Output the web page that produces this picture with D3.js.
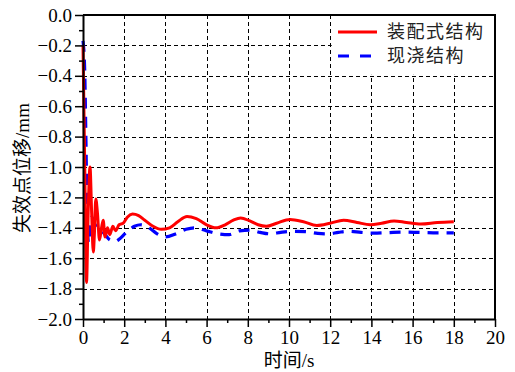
<!DOCTYPE html>
<html>
<head>
<meta charset="utf-8">
<script src="https://cdn.jsdelivr.net/npm/d3@7"></script>
<style>
  html, body { margin: 0; padding: 0; background: #fff; }
  svg { display: block; }
  .serif { font-family: "Liberation Serif", "Times New Roman", Times, "DejaVu Serif", "Noto Sans CJK SC", serif; }
</style>
</head>
<body>
<svg id="chart" width="515" height="372"></svg>
<script>
// ---- data ----
const seriesNames = ["装配式结构", "现浇结构"];
const redTime = [0,0.08,0.17,0.25,0.34,0.42,0.5,0.55,0.62,0.7,0.8,0.9,0.98,1.07,1.19,1.3,1.45,1.58,1.75,1.95,2.15,2.4,2.7,3.0,3.4,3.8,4.2,4.6,5.05,5.5,6.0,6.45,6.9,7.3,7.65,8.1,8.5,8.9,9.4,10.05,10.7,11.35,12.0,12.65,13.3,13.95,14.5,15.1,15.7,16.4,17.2,18];
const redValue = [-0.2,-0.95,-1.76,-1.3,-1.0,-1.3,-1.56,-1.45,-1.21,-1.3,-1.48,-1.4,-1.35,-1.46,-1.40,-1.445,-1.39,-1.42,-1.38,-1.37,-1.33,-1.31,-1.32,-1.35,-1.39,-1.41,-1.40,-1.36,-1.325,-1.34,-1.38,-1.40,-1.38,-1.35,-1.335,-1.355,-1.38,-1.39,-1.37,-1.345,-1.36,-1.385,-1.37,-1.35,-1.365,-1.38,-1.37,-1.355,-1.365,-1.375,-1.365,-1.36];
const blueTime = [0,0.08,0.14,0.18,0.22,0.27,0.33,0.42,0.55,0.7,0.9,1.1,1.3,1.55,1.8,2.1,2.5,2.8,3.2,3.6,4.0,4.5,5.0,5.4,6.0,6.6,7.1,7.6,8.1,8.6,9.1,9.6,10.2,10.8,11.4,11.9,12.4,12.9,13.5,14.1,14.8,15.5,16.2,17,18];
const blueValue = [-0.17,-0.35,-0.8,-1.15,-1.4,-1.5,-1.42,-1.33,-1.37,-1.40,-1.42,-1.45,-1.48,-1.49,-1.47,-1.43,-1.39,-1.38,-1.40,-1.44,-1.46,-1.44,-1.41,-1.40,-1.42,-1.44,-1.445,-1.42,-1.415,-1.43,-1.44,-1.43,-1.423,-1.425,-1.437,-1.44,-1.43,-1.423,-1.43,-1.435,-1.432,-1.428,-1.43,-1.433,-1.433];
const xTicks = [0,2,4,6,8,10,12,14,16,18,20];
const yTicks = [0,-0.2,-0.4,-0.6,-0.8,-1.0,-1.2,-1.4,-1.6,-1.8,-2.0];
const xLabel = "时间/s";
const yLabel = "失效点位移/mm";

// ---- layout ----
const L = 83, R = 495, T = 15, B = 319;
const svg = d3.select("#chart");
const x = d3.scaleLinear().domain([0, 20]).range([L, R]);
const y = d3.scaleLinear().domain([-2, 0]).range([B, T]);
const fmtY = d => d === 0 ? "0.0" : "\u2212" + Math.abs(d).toFixed(1);

// grid
const grid = svg.append("g").attr("stroke", "#000").attr("stroke-width", 1).attr("stroke-dasharray", "4,3");
xTicks.filter(d => d > 0 && d < 20).forEach(d => {
  grid.append("line").attr("x1", Math.round(x(d)) + 0.5).attr("x2", Math.round(x(d)) + 0.5).attr("y1", T).attr("y2", B);
});
yTicks.filter(d => d < 0 && d > -2).forEach(d => {
  grid.append("line").attr("x1", L).attr("x2", R).attr("y1", Math.round(y(d)) + 0.5).attr("y2", Math.round(y(d)) + 0.5);
});

// legend background (covers grid)
svg.append("rect").attr("x", x(12) + 1.5).attr("y", T).attr("width", R - x(12) - 1.5).attr("height", y(-0.4) - T - 1).attr("fill", "#fff");

// lines
const redData = redTime.map((t, i) => [t, redValue[i]]);
const blueData = blueTime.map((t, i) => [t, blueValue[i]]);
const line = d3.line().x(d => x(d[0])).y(d => y(d[1])).curve(d3.curveMonotoneX);
svg.append("path").datum(blueData).attr("d", line).attr("fill", "none")
  .attr("stroke", "#0000ff").attr("stroke-width", 3.2).attr("stroke-dasharray", "11,8");
svg.append("path").datum(redData).attr("d", line).attr("fill", "none")
  .attr("stroke", "#ff0000").attr("stroke-width", 3);

// axes
const xAxis = svg.append("g").attr("transform", `translate(0,${B})`)
  .call(d3.axisBottom(x).tickValues(xTicks).tickSize(8).tickSizeOuter(0).tickPadding(4).tickFormat(d3.format("d")));
const xMinor = svg.append("g").attr("transform", `translate(0,${B})`)
  .call(d3.axisBottom(x).tickValues(d3.range(1, 20, 2)).tickSize(4).tickFormat(""));
const yAxis = svg.append("g").attr("transform", `translate(${L},0)`)
  .call(d3.axisLeft(y).tickValues(yTicks).tickSize(8).tickSizeOuter(0).tickPadding(3).tickFormat(fmtY));
const yMinor = svg.append("g").attr("transform", `translate(${L},0)`)
  .call(d3.axisLeft(y).tickValues(d3.range(-1.9, 0, 0.2)).tickSize(4).tickFormat(""));
[xMinor, yMinor].forEach(g => g.select(".domain").remove());
[xAxis, yAxis, xMinor, yMinor].forEach(g => {
  g.attr("font-family", null).attr("font-size", null);
  g.selectAll(".domain").attr("stroke", "#000").attr("stroke-width", 2);
  g.selectAll(".tick line").attr("stroke", "#000").attr("stroke-width", 1.5);
  g.selectAll("text").attr("class", "serif").style("font-size", "19px").attr("fill", "#000");
});
// frame top & right
svg.append("line").attr("x1", L).attr("x2", R + 1).attr("y1", T).attr("y2", T).attr("stroke", "#000").attr("stroke-width", 2);
svg.append("line").attr("x1", R).attr("x2", R).attr("y1", T).attr("y2", B).attr("stroke", "#000").attr("stroke-width", 2);

// axis labels
svg.append("text").attr("class", "serif").attr("x", 289).attr("y", 367).attr("text-anchor", "middle")
  .style("font-size", "19px").attr("fill", "#000").text(xLabel);
svg.append("text").attr("class", "serif").attr("transform", "translate(29,168) rotate(-90)").attr("text-anchor", "middle")
  .style("font-size", "19px").attr("fill", "#000").text(yLabel);

// legend
const lg = svg.append("g");
const legendRows = [
  { name: seriesNames[0], color: "#ff0000", dash: null, y: 32 },
  { name: seriesNames[1], color: "#0000ff", dash: "11,11", y: 56 }
];
legendRows.forEach(r => {
  lg.append("line").attr("x1", 338).attr("x2", 377).attr("y1", r.y).attr("y2", r.y)
    .attr("stroke", r.color).attr("stroke-width", 3).attr("stroke-dasharray", r.dash);
  lg.append("text").attr("x", 387).attr("y", r.y).attr("dy", "0.36em")
    .style("font-family", "'Noto Sans CJK SC', sans-serif").style("font-size", "18px").style("letter-spacing", "1.5px").attr("fill", "#222").text(r.name);
});
</script>
</body>
</html>
